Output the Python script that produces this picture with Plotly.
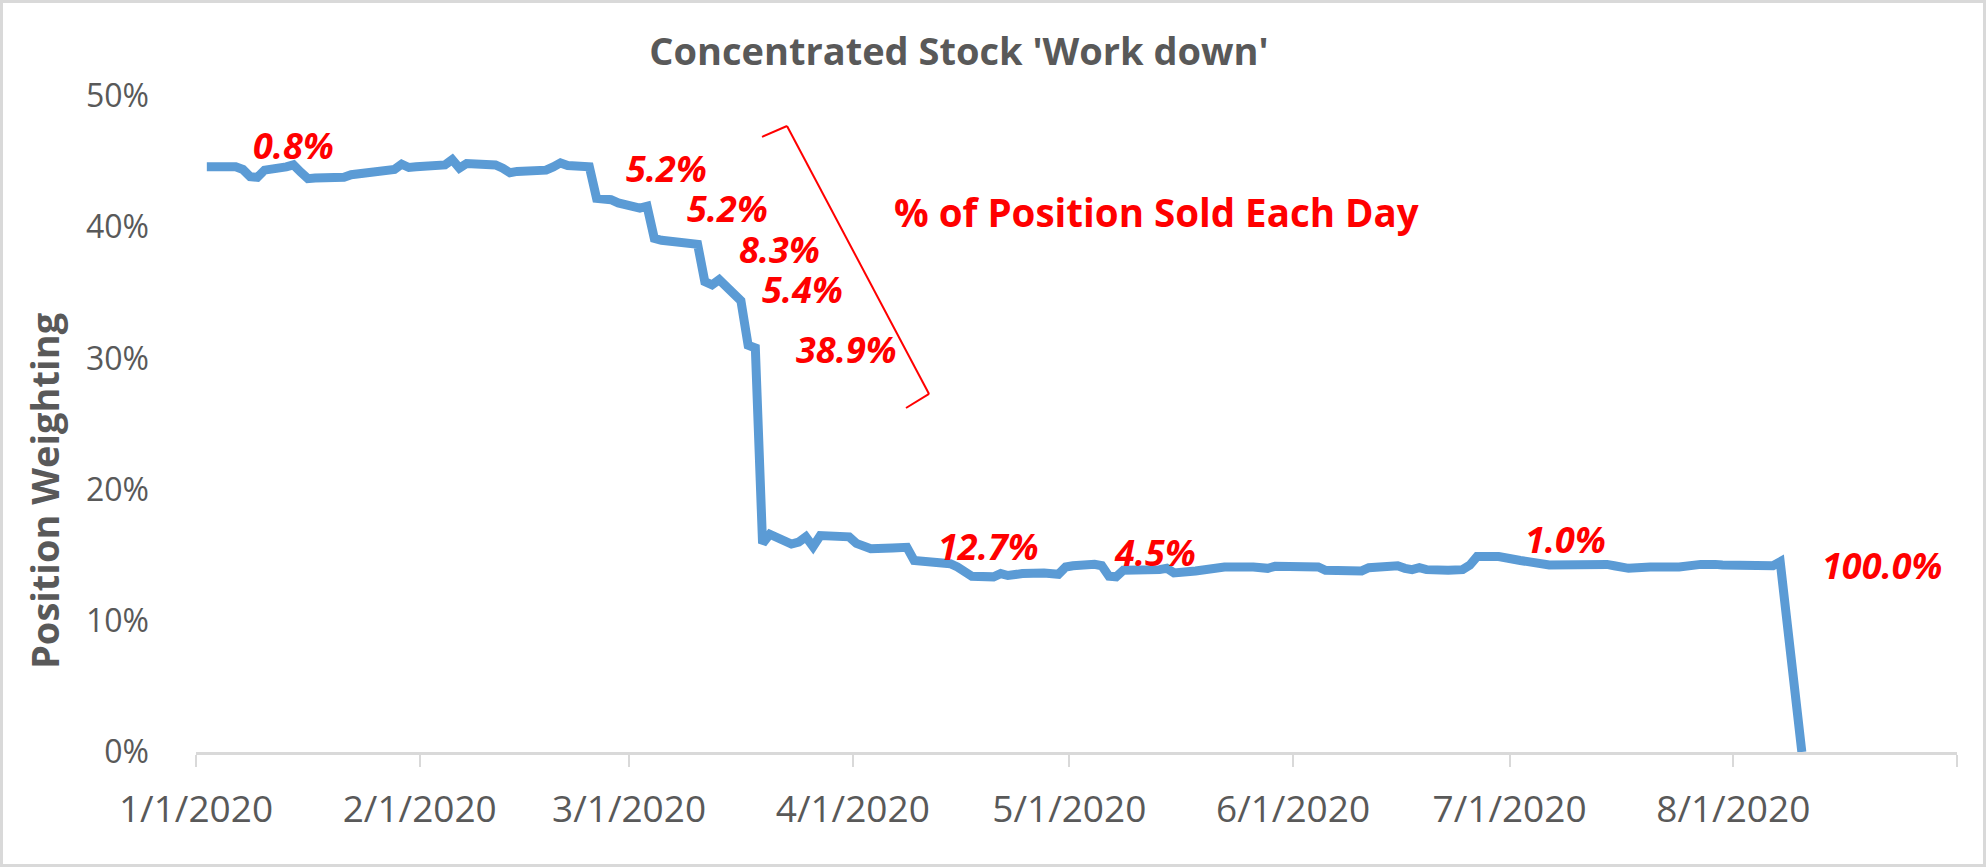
import plotly.graph_objects as go
import pandas as pd

# ---- data (position weighting, % of portfolio, by trading day) ----
jan_days = [2, 3, 6, 7, 8, 9, 10, 13, 14, 15, 16, 17, 21, 22, 23, 24, 27, 28, 29, 30, 31]
jan_vals = [44.6, 44.6, 44.6, 44.4, 43.85, 43.8, 44.35, 44.6, 44.75, 44.2, 43.7, 43.75, 43.8,
            44.0, 44.05, 44.1, 44.3, 44.4, 44.8, 44.55, 44.6]
feb_days = [3, 4, 5, 6, 7, 10, 11, 12, 13, 14, 18, 19, 20, 21, 24, 25, 26, 27, 28]
feb_vals = [44.7, 44.75, 45.15, 44.5, 44.85, 44.8, 44.75, 44.5, 44.15, 44.25, 44.35, 44.6, 44.9,
            44.7, 44.6, 42.2, 42.15, 42.1, 41.85]
mar_days = [2, 3, 4, 5, 6, 9, 10, 11, 12, 13, 16, 17, 18, 19, 20, 23, 24, 25, 26, 27, 30, 31]
mar_vals = [41.45, 41.6, 39.15, 39.0, 38.95, 38.8, 38.7, 35.85, 35.6, 36.0, 34.4, 31.0, 30.8,
            15.9, 16.6, 15.85, 16.0, 16.4, 15.65, 16.5, 16.3, 16.4]
apr_days = [1, 2, 3, 6, 7, 8, 9, 13, 14, 15, 16, 17, 20, 21, 22, 23, 24, 27, 28, 29, 30]
apr_vals = [15.9, 15.65, 15.5, 15.55, 15.6, 15.6, 14.6, 14.4, 14.35, 14.1, 13.75, 13.4, 13.35,
            13.6, 13.45, 13.6, 13.6, 13.65, 13.65, 13.55, 14.1]
may_days = [1, 4, 5, 6, 7, 8, 11, 12, 13, 14, 15, 18, 19, 20, 21, 22, 26, 27, 28, 29]
may_vals = [14.2, 14.3, 14.2, 13.4, 13.35, 13.85, 13.85, 13.8, 13.9, 14.0, 13.65, 13.8, 13.85,
            14.0, 14.1, 14.1, 14.1, 14.05, 14.0, 14.15]
jun_days = [1, 2, 3, 4, 5, 8, 9, 10, 11, 12, 15, 16, 17, 18, 19, 22, 23, 24, 25, 26, 29, 30]
jun_vals = [14.15, 14.15, 14.15, 14.1, 13.85, 13.8, 13.8, 13.8, 14.05, 14.05, 14.2, 14.0, 13.9,
            14.05, 13.9, 13.85, 13.85, 13.9, 14.25, 14.9, 14.9, 14.75]
jul_days = [1, 2, 6, 7, 8, 9, 10, 13, 14, 15, 16, 17, 20, 21, 22, 23, 24, 27, 28, 29, 30, 31]
jul_vals = [14.65, 14.6, 14.25, 14.25, 14.25, 14.3, 14.4, 14.35, 14.3, 14.2, 14.05, 14.0, 14.1,
            14.1, 14.05, 14.0, 14.1, 14.3, 14.35, 14.3, 14.25, 14.25]
aug_days = [3, 4, 5, 6, 7, 10]
aug_vals = [14.25, 14.25, 14.25, 14.2, 14.5, 0.0]

months = [(1, jan_days, jan_vals), (2, feb_days, feb_vals), (3, mar_days, mar_vals),
          (4, apr_days, apr_vals), (5, may_days, may_vals), (6, jun_days, jun_vals),
          (7, jul_days, jul_vals), (8, aug_days, aug_vals)]

dates, weights = [], []
for m, ds, vs in months:
    assert len(ds) == len(vs), (m, len(ds), len(vs))
    dates += [f"2020-{m:02d}-{d:02d}" for d in ds]
    weights += [v / 100 for v in vs]

tick_dates = ["2020-01-01", "2020-02-01", "2020-03-01", "2020-04-01", "2020-05-01",
              "2020-06-01", "2020-07-01", "2020-08-01", "2020-09-01"]
tick_labels = ["1/1/2020", "2/1/2020", "3/1/2020", "4/1/2020", "5/1/2020",
               "6/1/2020", "7/1/2020", "8/1/2020", ""]

sold_labels = ["0.8%", "5.2%", "5.2%", "8.3%", "5.4%", "38.9%", "12.7%", "4.5%", "1.0%", "100.0%"]
sold_x = ["2020-01-14 13:00", "2020-03-06 03:00", "2020-03-14 14:00", "2020-03-21 22:00",
          "2020-03-25 01:00", "2020-03-31 02:00", "2020-04-19 18:00", "2020-05-12 21:00",
          "2020-07-08 16:30", "2020-08-21 13:00"]
sold_y = [0.462, 0.4444, 0.4146, 0.3828, 0.3527, 0.3069, 0.1565, 0.1517, 0.1623, 0.1421]

# ---- figure ----
W, H = 1986, 867
L, R, T, B = 196, 29, 96, 115
PW, PH = W - L - R, H - T - B
FONT = "Open Sans"
GRAY = "#595959"
RED = "#FF0000"

# Excel date axis centres each day in its slot
x_plot = pd.to_datetime(dates) + pd.Timedelta(hours=12)

fig = go.Figure()
fig.add_trace(go.Scatter(
    x=x_plot, y=weights, mode="lines",
    line=dict(color="#5B9BD5", width=9),
    hoverinfo="skip", showlegend=False,
))

annotations = []
for txt, ax, ay in zip(sold_labels, sold_x, sold_y):
    annotations.append(dict(
        x=ax, y=ay, xref="x", yref="y", text=txt, showarrow=False,
        xanchor="center", yanchor="middle",
        font=dict(family=FONT, size=36, color=RED, weight="bold", style="italic"),
    ))
annotations.append(dict(
    x="2020-05-13 00:30", y=0.4116, xref="x", yref="y",
    text="% of Position Sold Each Day", showarrow=False,
    xanchor="center", yanchor="middle",
    font=dict(family=FONT, size=38.5, color=RED, weight="bold"),
))
annotations.append(dict(
    x=(44 - L) / PW, y=(H - B - 491) / PH, xref="paper", yref="paper",
    text="Position Weighting", textangle=-90, showarrow=False,
    xanchor="center", yanchor="middle",
    font=dict(family=FONT, size=38, color=GRAY, weight="bold"),
))

bracket = [("2020-03-19 10:20", 0.4688), ("2020-03-22 21:20", 0.4771),
           ("2020-04-11 13:40", 0.2729), ("2020-04-08 09:00", 0.2622)]
shapes = []
for (xa, ya), (xb, yb) in zip(bracket[:-1], bracket[1:]):
    shapes.append(dict(type="line", xref="x", yref="y", x0=xa, y0=ya, x1=xb, y1=yb,
                       line=dict(color=RED, width=2)))
# chart border
shapes.append(dict(type="rect", xref="paper", yref="paper",
                   x0=(1.5 - L) / PW, x1=(W - 1.5 - L) / PW,
                   y0=(-B + 1.5) / PH, y1=(H - B - 1.5) / PH,
                   line=dict(color="#D9D9D9", width=3), fillcolor="rgba(0,0,0,0)", layer="below"))

fig.update_layout(
    width=W, height=H,
    margin=dict(l=L, r=R, t=T, b=B, pad=0),
    paper_bgcolor="white", plot_bgcolor="white",
    title=dict(text="Concentrated Stock 'Work down'", x=959 / W, xanchor="center",
               y=1 - 52 / H, yanchor="middle", xref="container", yref="container",
               font=dict(family=FONT, size=38, color=GRAY, weight="bold")),
    xaxis=dict(
        type="date", range=["2020-01-01", "2020-09-01"],
        tickmode="array", tickvals=tick_dates, ticktext=tick_labels,
        showgrid=False, zeroline=False,
        showline=True, linecolor="#D9D9D9", linewidth=3,
        ticks="outside", ticklen=12, tickwidth=2, tickcolor="#D9D9D9",
        tickfont=dict(family=FONT, size=37, color=GRAY),
        ticklabelstandoff=11,
    ),
    yaxis=dict(
        range=[0, 0.5], dtick=0.1, tick0=0, tickformat=".0%",
        showgrid=False, zeroline=False, showline=False, ticks="",
        tickfont=dict(family=FONT, size=32, color=GRAY),
        ticklabelstandoff=46,
    ),
    annotations=annotations,
    shapes=shapes,
    hovermode=False,
)

fig.write_html("out.html", config={"displayModeBar": False},
               post_script="document.body.style.margin='0';document.body.style.padding='0';")
